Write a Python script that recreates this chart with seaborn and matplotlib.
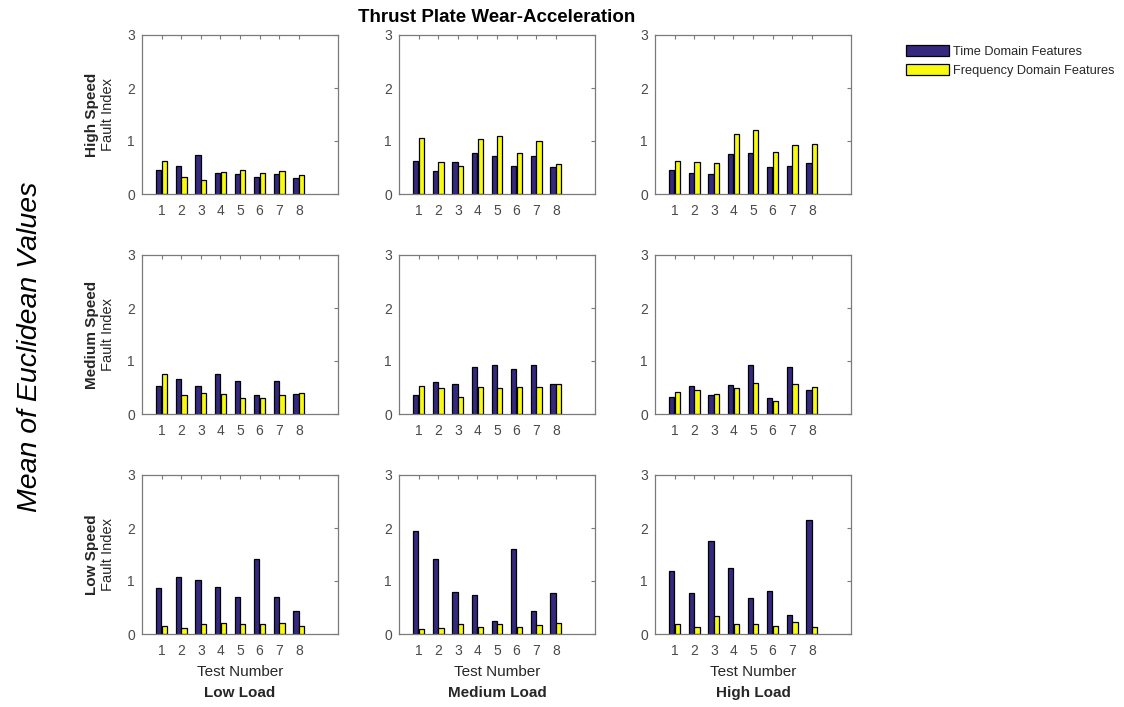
import matplotlib
matplotlib.use("Agg")
import matplotlib.pyplot as plt
from matplotlib.patches import Patch
import pandas as pd
import seaborn as sns

# ---- data -------------------------------------------------------------
tests = ["1", "2", "3", "4", "5", "6", "7", "8"]
features = ["Time Domain Features", "Frequency Domain Features"]
speeds = ["High Speed", "Medium Speed", "Low Speed"]
loads = ["Low Load", "Medium Load", "High Load"]

# mean Euclidean fault index per test, time-domain (td) and frequency-domain (fd)
td_high_low = [0.45, 0.53, 0.74, 0.39, 0.37, 0.33, 0.37, 0.31]
fd_high_low = [0.63, 0.33, 0.26, 0.42, 0.45, 0.39, 0.43, 0.35]
td_high_med = [0.63, 0.43, 0.61, 0.77, 0.71, 0.53, 0.71, 0.51]
fd_high_med = [1.06, 0.61, 0.53, 1.04, 1.10, 0.77, 1.00, 0.57]
td_high_high = [0.46, 0.39, 0.37, 0.76, 0.78, 0.51, 0.53, 0.59]
fd_high_high = [0.63, 0.61, 0.59, 1.14, 1.21, 0.79, 0.92, 0.94]

td_med_low = [0.53, 0.66, 0.53, 0.76, 0.63, 0.35, 0.63, 0.37]
fd_med_low = [0.76, 0.35, 0.39, 0.37, 0.31, 0.31, 0.35, 0.39]
td_med_med = [0.35, 0.61, 0.57, 0.88, 0.92, 0.84, 0.92, 0.57]
fd_med_med = [0.53, 0.49, 0.33, 0.51, 0.49, 0.51, 0.51, 0.57]
td_med_high = [0.33, 0.53, 0.35, 0.55, 0.92, 0.31, 0.89, 0.45]
fd_med_high = [0.41, 0.45, 0.37, 0.49, 0.59, 0.24, 0.57, 0.51]

td_low_low = [0.87, 1.07, 1.01, 0.89, 0.69, 1.42, 0.69, 0.44]
fd_low_low = [0.16, 0.11, 0.18, 0.20, 0.18, 0.18, 0.20, 0.16]
td_low_med = [1.95, 1.41, 0.79, 0.73, 0.24, 1.61, 0.44, 0.77]
fd_low_med = [0.09, 0.11, 0.19, 0.14, 0.19, 0.14, 0.17, 0.21]
td_low_high = [1.18, 0.77, 1.75, 1.24, 0.67, 0.81, 0.35, 2.16]
fd_low_high = [0.19, 0.14, 0.34, 0.18, 0.18, 0.16, 0.22, 0.13]

panels = {
    ("High Speed", "Low Load"): (td_high_low, fd_high_low),
    ("High Speed", "Medium Load"): (td_high_med, fd_high_med),
    ("High Speed", "High Load"): (td_high_high, fd_high_high),
    ("Medium Speed", "Low Load"): (td_med_low, fd_med_low),
    ("Medium Speed", "Medium Load"): (td_med_med, fd_med_med),
    ("Medium Speed", "High Load"): (td_med_high, fd_med_high),
    ("Low Speed", "Low Load"): (td_low_low, fd_low_low),
    ("Low Speed", "Medium Load"): (td_low_med, fd_low_med),
    ("Low Speed", "High Load"): (td_low_high, fd_low_high),
}

# ---- style --------------------------------------------------------------
sns.set_theme(style="white")
plt.rcParams["font.family"] = ["Liberation Sans", "DejaVu Sans"]

colors = ["#35297F", "#F9FB0E"]
spine_color = "#7a7a7a"
text_color = "#262626"
tick_color = "#4a4a4a"

W, H = 1124, 707
fig = plt.figure(figsize=(W / 100, H / 100), dpi=100)

col_left = [142, 399, 655]
row_top = [35, 255, 475]
aw, ah = 196, 159


def fx(px):
    return px / W


def fy(py):
    return 1 - py / H


for r, speed in enumerate(speeds):
    for c, load in enumerate(loads):
        ax = fig.add_axes([fx(col_left[c]), fy(row_top[r] + ah), aw / W, ah / H])
        td, fd = panels[(speed, load)]
        df = pd.DataFrame({
            "Test": tests * 2,
            "Feature": [features[0]] * len(tests) + [features[1]] * len(tests),
            "Value": td + fd,
        })
        sns.barplot(
            data=df, x="Test", y="Value", hue="Feature",
            order=tests, hue_order=features, palette=colors,
            width=0.56, gap=0.06, saturation=1, errorbar=None,
            edgecolor="black", linewidth=0.9, legend=False, ax=ax,
        )
        ax.set_xlim(-1, 9)
        ax.set_ylim(0, 3)
        ax.set_yticks([0, 1, 2, 3])
        ax.set_xlabel("")
        ax.set_ylabel("")
        ax.tick_params(axis="both", direction="in", top=True, right=True,
                       length=3, width=0.8, color=spine_color,
                       labelcolor=tick_color, labelsize=10)
        ax.tick_params(axis="x", pad=7.5)
        ax.tick_params(axis="y", pad=5)
        for sp in ax.spines.values():
            sp.set_color(spine_color)
            sp.set_linewidth(0.9)
            sp.set_visible(True)

        if c == 0:
            yc = row_top[r] + ah / 2
            fig.text(fx(92), fy(yc), speed, rotation=90, ha="center", va="center",
                     fontsize=11, fontweight="bold", color=text_color)
            fig.text(fx(108), fy(yc), "Fault Index", rotation=90, ha="center",
                     va="center", fontsize=10.5, color=text_color)
        if r == len(speeds) - 1:
            xc = col_left[c] + aw / 2
            fig.text(fx(xc), fy(672), "Test Number", ha="center", va="center",
                     fontsize=11, color=text_color)
            fig.text(fx(xc), fy(693), load, ha="center", va="center",
                     fontsize=11, fontweight="bold", color=text_color)

fig.text(fx(col_left[1] + aw / 2), fy(18), "Thrust Plate Wear-Acceleration",
         ha="center", va="center", fontsize=13.5, fontweight="bold", color="black")

fig.text(fx(30), fy(347), "Mean of Euclidean Values", rotation=90,
         ha="center", va="center", fontsize=20.5, style="italic", color="black")

handles = [Patch(facecolor=colors[0], edgecolor="black", linewidth=0.9),
           Patch(facecolor=colors[1], edgecolor="black", linewidth=0.9)]
fig.legend(handles, features, loc="upper left",
           bbox_to_anchor=(fx(906), fy(45)), frameon=False, fontsize=9.2,
           handlelength=3.4, handleheight=1.0, handletextpad=0.3,
           labelspacing=0.45, borderpad=0, borderaxespad=0)

fig.savefig("out.png", dpi=100)
